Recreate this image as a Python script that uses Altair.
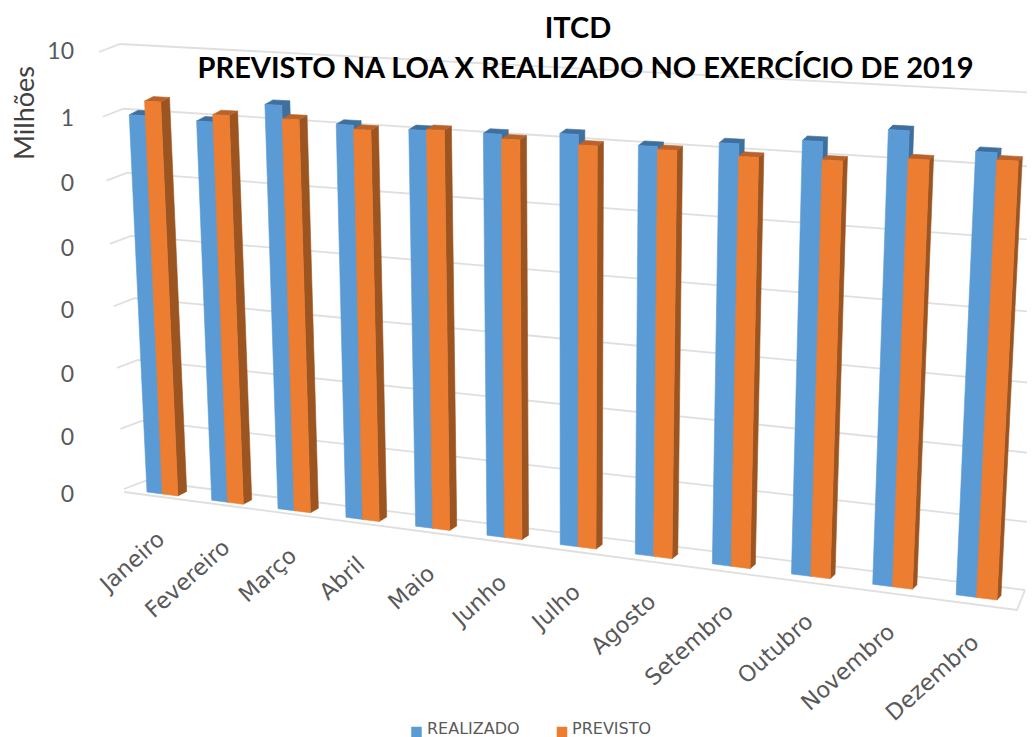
import math
import numpy as np
import pandas as pd
import altair as alt

months = ["Janeiro", "Fevereiro", "Março", "Abril", "Maio", "Junho", "Julho",
          "Agosto", "Setembro", "Outubro", "Novembro", "Dezembro"]
realizado = [0.92, 0.85, 1.71, 1.00, 0.96, 0.98, 1.12, 0.88, 1.11, 1.38, 2.22, 1.32]
previsto = [1.53, 1.09, 1.08, 0.87, 0.995, 0.84, 0.80, 0.80, 0.75, 0.78, 0.94, 1.06]
tick_labels = ["10", "1", "0", "0", "0", "0", "0", "0"]
title_lines = ["ITCD", "PREVISTO NA LOA X REALIZADO NO EXERCÍCIO DE 2019"]
series_names = ["REALIZADO", "PREVISTO"]

W, H = 1019, 729
DECADES = 7
BAR = 0.24
SPAN = 11 + 2 * BAR


def homography(corners):
    """Plane (u in 0..1, v in 0..1) -> picture, from corners (0,0),(1,0),(0,1),(1,1)."""
    src = [(0, 0), (1, 0), (0, 1), (1, 1)]
    A, b = [], []
    for (u, v), (x, y) in zip(src, corners):
        A.append([u, v, 1, 0, 0, 0, -u * x, -v * x]); b.append(x)
        A.append([0, 0, 0, u, v, 1, -u * y, -v * y]); b.append(y)
    h = np.linalg.solve(np.array(A, float), np.array(b, float))

    def project(u, v):
        d = h[6] * u + h[7] * v + 1
        return (h[0] * u + h[1] * v + h[2]) / d, (h[3] * u + h[4] * v + h[5]) / d
    return project


front = homography([(147, 492), (997, 600), (126, 46), (1022, 86)])
wall = homography([(145, 481), (1025, 590), (120, 44), (1040, 93)])


def bar_pt(u, decade):
    return front(u / SPAN, decade / DECADES)


def depth(u):
    f = u / SPAN
    return 9 - 5 * f, -4.5


rows = []


def add(pts, color):
    pid = (rows[-1]["pid"] + 1) if rows else 0
    closed = list(pts) + [pts[0]]
    for k, (x, y) in enumerate(closed):
        rows.append({"pid": pid, "k": k, "x": x, "y": y, "c": color})


PALETTE = [("#5B9BD5", "#3E6F9E", "#3E6F9E"), ("#ED7D31", "#9C5420", "#B9632A")]
for i in range(len(months)):
    for s, vals in enumerate((realizado, previsto)):
        dec = math.log10(vals[i]) + 6
        u0, u1 = i + s * BAR, i + (s + 1) * BAR
        a, b = bar_pt(u0, 0), bar_pt(u1, 0)
        c, d = bar_pt(u1, dec), bar_pt(u0, dec)
        dx, dy = depth(u1)
        front_c, side_c, top_c = PALETTE[s]
        add([b, (b[0] + dx, b[1] + dy), (c[0] + dx, c[1] + dy), c], side_c)
        add([d, c, (c[0] + dx, c[1] + dy), (d[0] + dx, d[1] + dy)], top_c)
        add([a, b, c, d], front_c)
polygons = pd.DataFrame(rows)

# grid lines on the back wall with their short stub on the side wall
grid_rows = []
STUB = (-21, 8)
for d in range(DECADES + 1):
    p0 = wall(0, d / DECADES)
    p1 = wall(1, d / DECADES)
    grid_rows += [
        {"g": d, "k": 0, "x": p0[0] + STUB[0], "y": p0[1] + STUB[1]},
        {"g": d, "k": 1, "x": p0[0], "y": p0[1]},
        {"g": d, "k": 2, "x": p1[0], "y": p1[1]},
    ]
fl = [wall(1, 0), (1017, 610), (124, 492)]
for k, (x, y) in enumerate(fl):
    grid_rows.append({"g": 99, "k": k, "x": x, "y": y})
grid = pd.DataFrame(grid_rows)

x_s = alt.Scale(domain=[8, 8 + W], range=[0, W], nice=False, zero=False)
y_s = alt.Scale(domain=[8, 8 + H], range=[0, H], nice=False, zero=False)
X = alt.X("x:Q", scale=x_s, axis=None)
Y = alt.Y("y:Q", scale=y_s, axis=None)

grid_layer = alt.Chart(grid).mark_line(color="#DCDCDC", strokeWidth=1.8, opacity=0.9).encode(
    x=X, y=Y, detail="g:N", order="k:Q")

poly_layer = alt.Chart(polygons).mark_line(strokeWidth=0.6, interpolate="linear").encode(
    x=X, y=Y, detail="pid:Q", order="k:Q",
    fill=alt.Fill("c:N", scale=None, legend=None),
    stroke=alt.Stroke("c:N", scale=None, legend=None))

# y tick labels
tick_ys = [52, 119, 184, 249, 311, 375, 438, 495]
ticks = pd.DataFrame({"t": tick_labels, "x": [74] * 8, "y": tick_ys, "i": range(8)})
tick_layer = alt.Chart(ticks).mark_text(
    font="Lato", fontSize=23, align="right", baseline="middle", color="#595959"
).encode(x=X, y=Y, text="t:N", detail="i:N")

# month labels, anchored below the floor under each cluster
lab = []
for i, m in enumerate(months):
    x, y = bar_pt(i + BAR, 0)
    lab.append({"m": m, "x": x - 1, "y": y + 42})
month_layer = alt.Chart(pd.DataFrame(lab)).mark_text(
    font="DejaVu Sans", fontSize=22.5, align="right", baseline="middle", angle=318, color="#595959"
).encode(x=X, y=Y, text="m:N")

axis_title = alt.Chart(pd.DataFrame({"t": ["Milhões"], "x": [26], "y": [113]})).mark_text(
    font="Lato", fontSize=27, angle=270, align="center", baseline="middle", color="#404040"
).encode(x=X, y=Y, text="t:N")

title_layer = alt.Chart(pd.DataFrame({"t": title_lines, "x": [578, 585.5], "y": [29, 69]})).mark_text(
    font="Lato", fontWeight="bold", fontSize=29, align="center", baseline="middle", color="#000000"
).encode(x=X, y=Y, text="t:N")

legend_sq = alt.Chart(pd.DataFrame({"x": [416.5, 562], "y": [732, 732], "c": ["#5B9BD5", "#ED7D31"]})).mark_square(
    size=110, opacity=1
).encode(x=X, y=Y, fill=alt.Fill("c:N", scale=None, legend=None))
legend_tx = alt.Chart(pd.DataFrame({"t": series_names, "x": [427, 572], "y": [728.5, 728.5]})).mark_text(
    font="DejaVu Sans", fontSize=16, align="left", baseline="middle", color="#595959"
).encode(x=X, y=Y, text="t:N")

chart = alt.layer(
    grid_layer, poly_layer, tick_layer, month_layer, axis_title, title_layer, legend_sq, legend_tx
).properties(width=W, height=H, padding=0, autosize=alt.AutoSizeParams(type="none")
).configure_view(stroke=None)

chart.save("out.html", embed_options={"renderer": "svg", "actions": False})
